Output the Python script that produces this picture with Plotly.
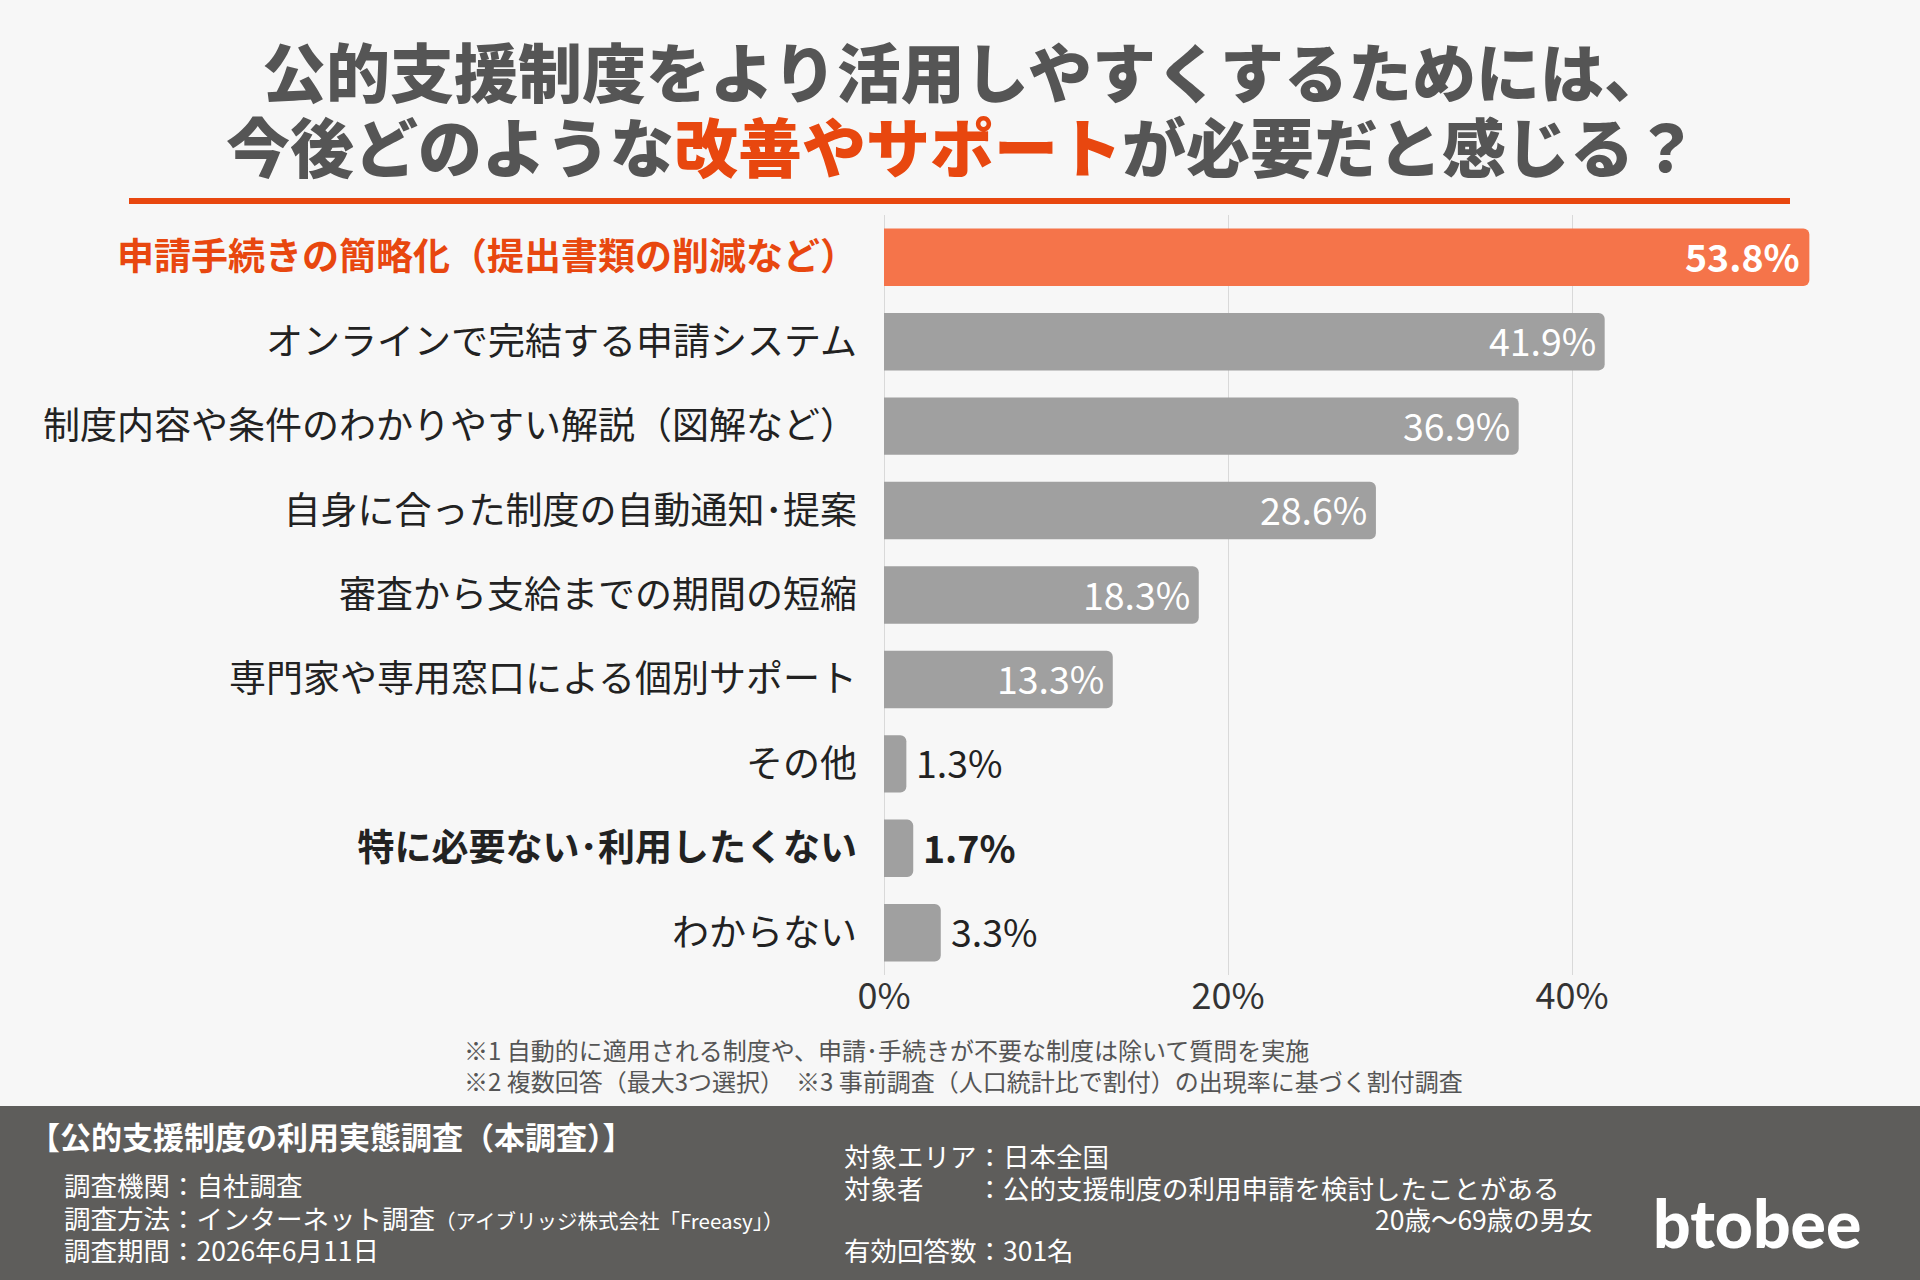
import plotly.graph_objects as go

# ---------------- data ----------------
categories = [
    "申請手続きの簡略化（提出書類の削減など）",
    "オンラインで完結する申請システム",
    "制度内容や条件のわかりやすい解説（図解など）",
    "自身に合った制度の自動通知･提案",
    "審査から支給までの期間の短縮",
    "専門家や専用窓口による個別サポート",
    "その他",
    "特に必要ない･利用したくない",
    "わからない",
]
values = [53.8, 41.9, 36.9, 28.6, 18.3, 13.3, 1.3, 1.7, 3.3]
x_ticks = [0, 20, 40]

title_line1 = "公的支援制度をより活用しやすくするためには、"
title_line2_a = "今後どのような"
title_line2_b = "改善やサポート"
title_line2_c = "が必要だと感じる？"

footnote1 = "※1 自動的に適用される制度や、申請･手続きが不要な制度は除いて質問を実施"
footnote2 = "※2 複数回答（最大3つ選択）　※3 事前調査（人口統計比で割付）の出現率に基づく割付調査"

survey_title = "【公的支援制度の利用実態調査（本調査）】"
survey_left = ["調査機関：自社調査", "調査方法：インターネット調査", "調査期間：2026年6月11日"]
survey_method_note = "（アイブリッジ株式会社「Freeasy」）"
survey_right = ["対象エリア：日本全国", "対象者　　：公的支援制度の利用申請を検討したことがある", "有効回答数：301名"]
survey_right_cont = "20歳～69歳の男女"
logo_text = "btobee"

# ---------------- styles ----------------
W, H = 1920, 1280
L, R, T, B = 884, 90, 215, 305
PW = W - L - R
PH = H - T - B
FONT = "Noto Sans CJK JP"
ORANGE = "#e8470f"
BAR_ORANGE = "#f5744a"
BAR_GRAY = "#a0a0a0"
TITLE_GRAY = "#555555"
BG = "#f7f7f7"
FOOT_BG = "#5e5d5b"

highlight_idx = 0
bold_idx = 7
inside_n = 6


def px(x):
    return (x - L) / PW


def py(y):
    return (H - B - y) / PH


tick_text = []
for i, c in enumerate(categories):
    if i == highlight_idx:
        tick_text.append(f"<b><span style='color:{ORANGE}'>{c}</span></b>")
    elif i == bold_idx:
        tick_text.append(f"<b>{c}</b>")
    else:
        tick_text.append(c)

colors = [BAR_ORANGE if i == highlight_idx else BAR_GRAY for i in range(len(values))]

fig = go.Figure(
    go.Bar(
        x=values,
        y=categories,
        orientation="h",
        width=0.68,
        marker=dict(color=colors, line=dict(width=0)),
        hoverinfo="skip",
    )
)

fig.update_layout(
    width=W,
    height=H,
    margin=dict(l=L, r=R, t=T, b=B, pad=0),
    paper_bgcolor=BG,
    plot_bgcolor=BG,
    showlegend=False,
    barcornerradius=6,
    font=dict(family=FONT, color="#222222"),
)

fig.update_xaxes(
    range=[0, 55],
    tickvals=x_ticks,
    ticktext=[f"{t}%" for t in x_ticks],
    tickfont=dict(family=FONT, size=36, color="#333333"),
    ticklabelstandoff=-3,
    showgrid=True,
    gridcolor="#d9d9d9",
    gridwidth=1,
    zeroline=True,
    zerolinecolor="#d9d9d9",
    zerolinewidth=1,
    showline=False,
    ticks="",
    fixedrange=True,
)
fig.update_yaxes(
    categoryorder="array",
    categoryarray=categories,
    autorange="reversed",
    tickvals=categories,
    ticktext=tick_text,
    tickfont=dict(family=FONT, size=37, color="#222222"),
    ticks="",
    ticklabelstandoff=26,
    showgrid=False,
    showline=False,
    zeroline=False,
    fixedrange=True,
)

shapes = [
    # orange rule under title
    dict(type="line", xref="paper", yref="paper",
         x0=px(129), x1=px(1790), y0=py(201), y1=py(201),
         line=dict(color=ORANGE, width=6), layer="above"),
    # footer box
    dict(type="rect", xref="paper", yref="paper",
         x0=px(0), x1=px(W), y0=py(1106), y1=py(H),
         fillcolor=FOOT_BG, line=dict(width=0), layer="below"),
]
fig.update_layout(shapes=shapes)

ann = []

# value labels (placed at the data values through the axes)
for i, (c, v) in enumerate(zip(categories, values)):
    s = f"{v:.1f}%"
    if i in (highlight_idx, bold_idx):
        s = f"<b>{s}</b>"
    inside = i < inside_n
    ann.append(dict(
        text=s, x=v, y=c, xref="x", yref="y",
        xanchor="right" if inside else "left",
        xshift=-7 if inside else 8,
        yshift=2,
        yanchor="middle", showarrow=False,
        font=dict(family=FONT, size=37.5, color="white" if inside else "#222222"),
    ))


def add_text(text, x, y, size, color, xanchor="left", weight=None, family=FONT):
    f = dict(family=family, size=size, color=color)
    if weight:
        f["weight"] = weight
    ann.append(dict(text=text, x=px(x), y=py(y), xref="paper", yref="paper",
                    xanchor=xanchor, yanchor="middle", showarrow=False, font=f))


# title
add_text(title_line1, 965, 69, 64, TITLE_GRAY, xanchor="center", weight=900)
add_text(f"{title_line2_a}<span style='color:{ORANGE}'>{title_line2_b}</span>{title_line2_c}",
         962, 144, 64, TITLE_GRAY, xanchor="center", weight=900)

# footnotes
add_text(footnote1, 462, 1049, 24, "#555555")
add_text(footnote2, 462, 1080, 24, "#555555")

# footer
add_text(survey_title, 27, 1135, 31, "white", weight=700)
add_text(survey_left[0], 62, 1184, 26.5, "white")
add_text(survey_left[1] + f"<span style='font-size:20.5px'>{survey_method_note}</span>", 62, 1217, 26.5, "white")
add_text(survey_left[2], 62, 1249, 26.5, "white")
add_text(survey_right[0], 842, 1155, 26.5, "white")
add_text(survey_right[1], 842, 1187, 26.5, "white")
add_text(survey_right_cont, 1595, 1218, 26.5, "white", xanchor="right")
add_text(survey_right[2], 842, 1249, 26.5, "white")
add_text(logo_text, 1757, 1222, 66, "white", xanchor="center", weight=900, family="Lato")

fig.update_layout(annotations=ann)

fig.write_html("out.html")
